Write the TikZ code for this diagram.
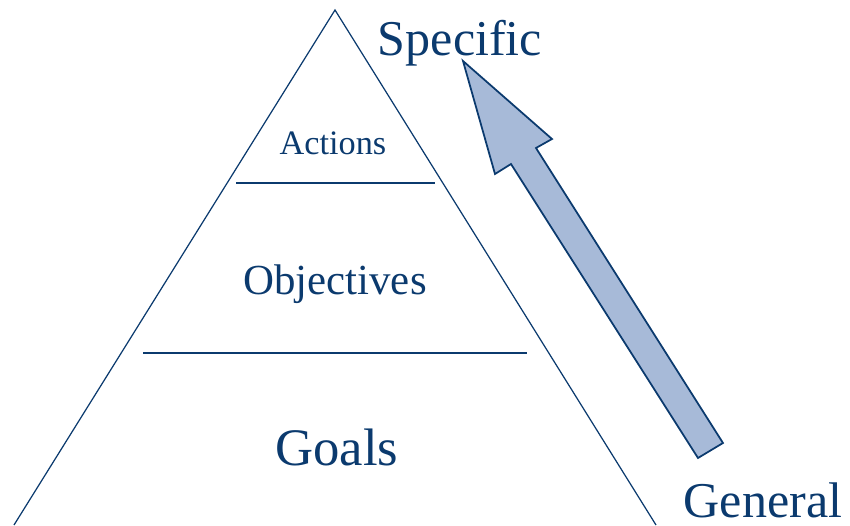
\documentclass[tikz,border=0pt]{standalone}
\usepackage{fontspec}
\setmainfont{Liberation Serif}
\usepackage{tikz}
\usetikzlibrary{calc}

\definecolor{navy}{HTML}{0B3A6E}
\definecolor{arrowfill}{HTML}{A7BAD8}

\tikzset{
  label text/.style={text=navy, inner sep=0pt, anchor=base},
  pyramid line/.style={draw=navy, line width=0.7pt},
}

\begin{document}
\begin{tikzpicture}[x=0.02cm,y=-0.02cm]
\useasboundingbox (0,0) rectangle (850,525);
% pyramid
\coordinate (apex) at (335,10);
\coordinate (baseL) at (14,525);
\coordinate (baseR) at (656,525);
\draw[pyramid line] (baseL) -- (apex) -- (baseR);
\coordinate (topL) at (236,183);
\coordinate (topR) at (435,183);
\coordinate (midL) at (143,353);
\coordinate (midR) at (527,353);
\draw[pyramid line] (topL) -- (topR);
\draw[pyramid line] (midL) -- (midR);
% levels
\node[label text] (actions) at (333,154) {\fontsize{19.5}{22}\selectfont Actions};
\node[label text] (objectives) at (335,294) {\fontsize{24.4}{28}\selectfont Objectives};
\node[label text] (goals) at (337,465) {\fontsize{30}{34}\selectfont Goals};
% direction arrow
\draw[draw=navy, fill=arrowfill, line width=1pt, line join=miter]
  (463,61) -- (552,139) -- (536,148) -- (723,443) -- (698,458) -- (511,164) -- (495,174) -- cycle;
\node[label text] (specific) at (460,55) {\fontsize{28.5}{32}\selectfont Specific};
\node[label text] (general) at (763,517) {\fontsize{28.5}{32}\selectfont General};
\end{tikzpicture}
\end{document}
